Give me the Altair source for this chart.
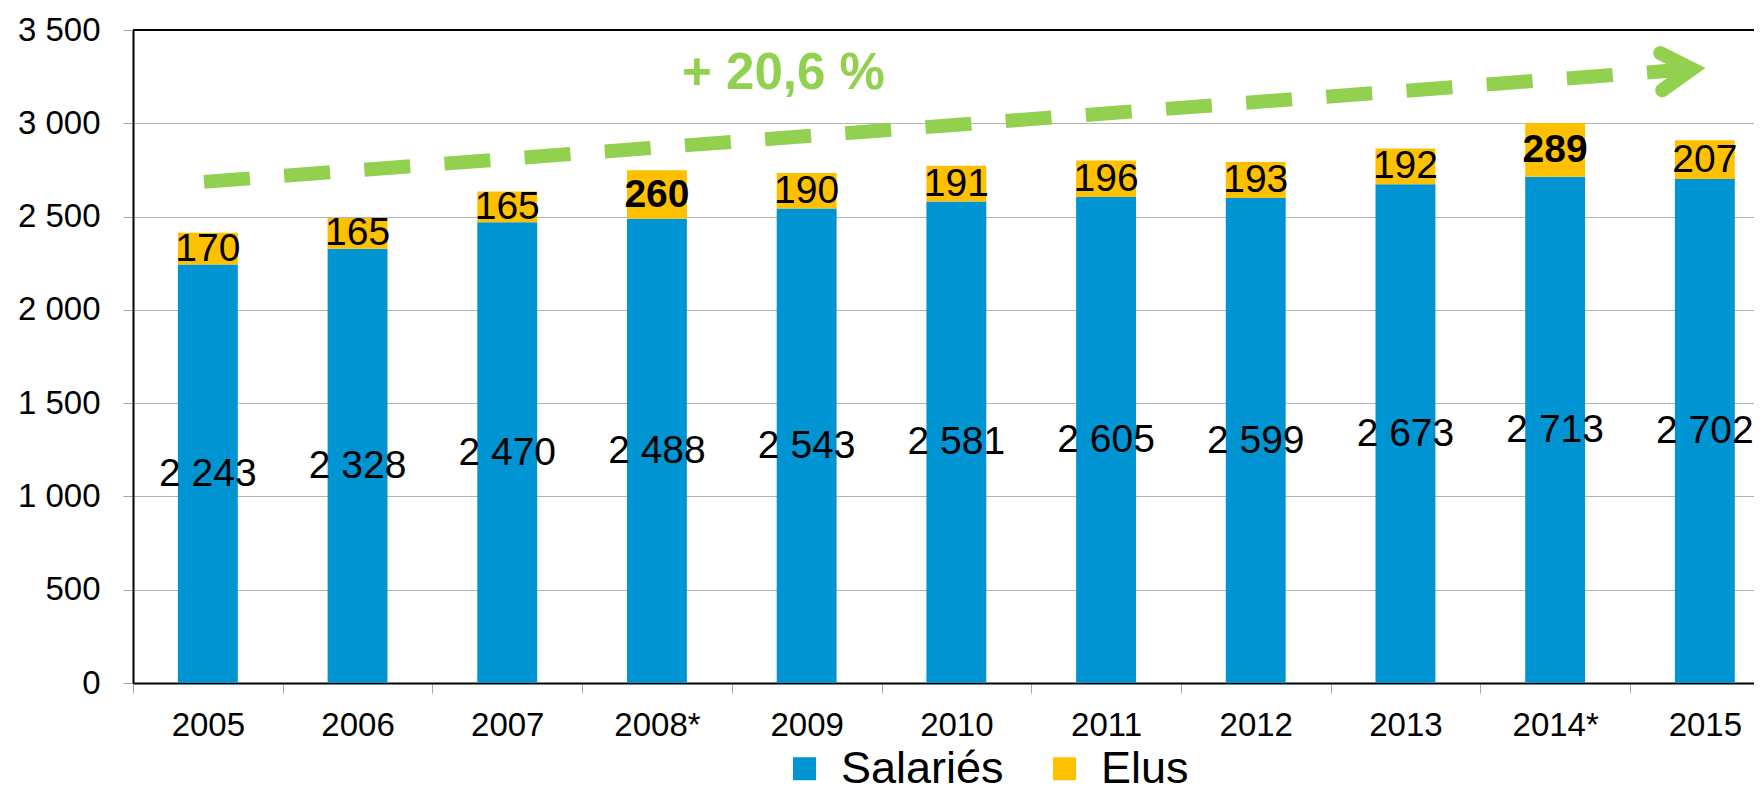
import json
import altair as alt
import pandas as pd

# ---- data ----
years = ["2005", "2006", "2007", "2008*", "2009", "2010", "2011", "2012", "2013", "2014*", "2015"]
salaries = [2243, 2328, 2470, 2488, 2543, 2581, 2605, 2599, 2673, 2713, 2702]
elus = [170, 165, 165, 260, 190, 191, 196, 193, 192, 289, 207]
elus_bold = [False, False, False, True, False, False, False, False, False, True, False]
series = ["Salariés", "Elus"]
colors = ["#0094D3", "#FFC000"]
y_ticks = [0, 500, 1000, 1500, 2000, 2500, 3000, 3500]

# trend arrow annotation (in data coordinates: category index, value)
trend_x = [-0.026, 9.914]
trend_y = [2686, 3291]
head_x = [9.702, 9.914, 9.715]
head_y = [3376, 3291, 3177]
growth_label = ["+ 20,6 %"]
growth_x = [3.845]
growth_y = [3265]

FONT = "Liberation Sans"
GREEN = "#92D050"
W, H = 1621, 653
BAND = 149.7
XMAX = -0.5 + W / BAND


def fmt(v):
    return f"{v:,}".replace(",", " ")


rows = []
for i, (y, s, e, b) in enumerate(zip(years, salaries, elus, elus_bold)):
    rows.append(dict(i=i, year=y, series="Salariés", lo=0, hi=s, mid=s / 2, label=fmt(s), bold=False))
    rows.append(dict(i=i, year=y, series="Elus", lo=s, hi=s + e, mid=s + e / 2, label=fmt(e), bold=b))
df = pd.DataFrame(rows)

xs = alt.Scale(domain=[-0.5, XMAX], nice=False, zero=False)
ys = alt.Scale(domain=[0, 3500], nice=False)

x_axis = alt.Axis(
    values=[i - 0.5 for i in range(len(years))],
    labelExpr=json.dumps(years) + "[round(datum.value + 0.5)]",
    labelOffset=BAND / 2, labelFlush=False, labelOverlap=False, labelBound=False,
    labelFont=FONT, labelFontSize=33, labelColor="black", labelPadding=16,
    tickSize=10, tickColor="#a6a6a6", tickWidth=1,
    domainColor="black", domainWidth=2, grid=False, title=None,
)
y_axis = alt.Axis(
    values=y_ticks,
    labelExpr="replace(format(datum.value, ','), ',', ' ')",
    labelFont=FONT, labelFontSize=33, labelColor="black", labelPadding=23,
    tickSize=10, tickColor="#a6a6a6", tickWidth=1,
    gridColor="#b3b3b3", gridWidth=1,
    domainColor="black", domainWidth=2, title=None,
)


def X(f):
    return alt.X(f, scale=xs, axis=x_axis)


def Y(f):
    return alt.Y(f, scale=ys, axis=y_axis)


base = alt.Chart(df)

bars = base.mark_bar().transform_calculate(
    x0="datum.i - 0.2", x1="datum.i + 0.2"
).encode(
    x=X("x0:Q"),
    x2="x1:Q",
    y=Y("lo:Q"),
    y2="hi:Q",
    color=alt.Color(
        "series:N",
        scale=alt.Scale(domain=series, range=colors),
        legend=alt.Legend(
            title=None, orient="none", legendX=649, legendY=716,
            direction="horizontal", symbolType="square", symbolSize=529,
            symbolStrokeWidth=0, labelFont=FONT, labelFontSize=45,
            labelColor="black", labelOffset=14, columnPadding=38,
            padding=0, labelLimit=400,
        ),
    ),
)

txt_kw = dict(font=FONT, fontSize=39, color="black", align="center", baseline="middle")

sal_text = base.transform_filter("datum.series == 'Salariés'").mark_text(**txt_kw).encode(
    x=X("i:Q"), y=Y("mid:Q"), text="label:N"
)
elus_text = base.transform_filter("datum.series == 'Elus' && !datum.bold").mark_text(**txt_kw).encode(
    x=X("i:Q"), y=Y("mid:Q"), text="label:N"
)
elus_bold_text = base.transform_filter("datum.series == 'Elus' && datum.bold").mark_text(
    fontWeight="bold", **txt_kw
).encode(x=X("i:Q"), y=Y("mid:Q"), text="label:N")

top_border = alt.Chart(pd.DataFrame({"v": [3500]})).mark_rule(color="black", strokeWidth=2).encode(
    y=Y("v:Q"), x=alt.value(0), x2=alt.value(W)
)

trend = alt.Chart(pd.DataFrame({"x": trend_x, "y": trend_y})).mark_line(
    color=GREEN, strokeWidth=14, strokeDash=[46, 34.4], strokeCap="butt"
).encode(x=X("x:Q"), y=Y("y:Q"))

head = alt.Chart(pd.DataFrame({"x": head_x, "y": head_y, "k": [0, 1, 2]})).mark_line(
    color=GREEN, strokeWidth=14, strokeCap="round", strokeJoin="miter", strokeMiterLimit=10
).encode(x=X("x:Q"), y=Y("y:Q"), order="k:Q")

growth = alt.Chart(pd.DataFrame({"x": growth_x, "y": growth_y, "t": growth_label})).mark_text(
    font=FONT, fontSize=51, fontWeight="bold", color=GREEN, align="center", baseline="middle"
).encode(x=X("x:Q"), y=Y("y:Q"), text="t:N")

chart = alt.layer(
    bars, sal_text, elus_text, elus_bold_text, top_border, trend, head, growth
).properties(
    width=W, height=H,
    padding={"left": 125, "top": 22, "right": 0, "bottom": 110},
    autosize=alt.AutoSizeParams(type="none"),
).configure_view(stroke=None)

chart.save("out.html", embed_options={"renderer": "svg", "actions": False})
